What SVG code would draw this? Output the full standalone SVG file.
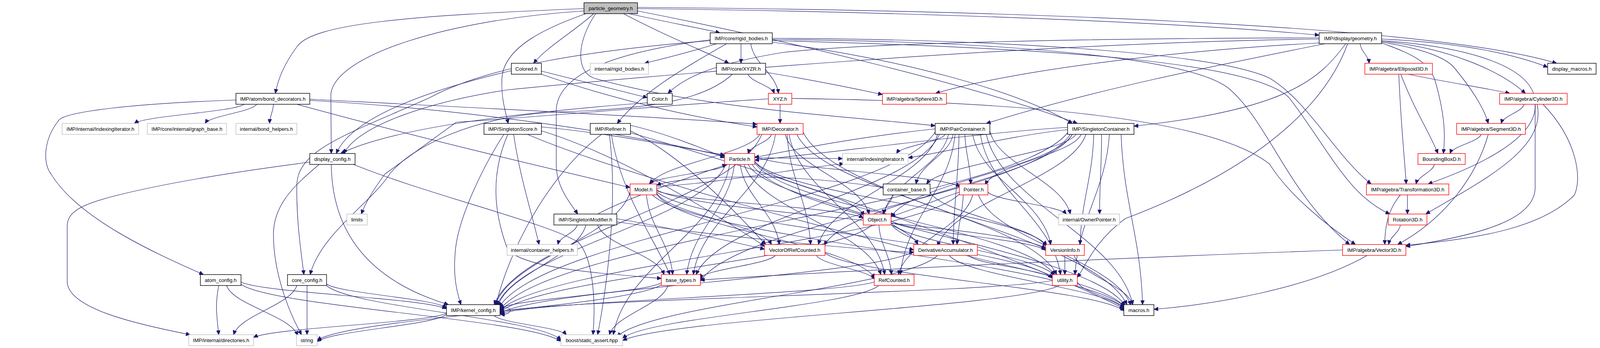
<svg xmlns="http://www.w3.org/2000/svg" width="4260" height="891" viewBox="0 0 4260 891">
<defs>
<marker id="ah" markerWidth="12" markerHeight="10" refX="11" refY="5" orient="auto" markerUnits="userSpaceOnUse"><path d="M0,0 L11,5 L0,10 z" fill="#191970" stroke="#191970" stroke-width="1"/></marker>
</defs>
<style>
.e path{fill:none;stroke:#191970;stroke-width:1.2;marker-end:url(#ah)}
.n rect{fill:#ffffff;stroke-width:1.4}
.k rect{stroke:#000000}
.r rect{stroke:#ff0000}
.g rect{stroke:#bfbfbf}
.n text{font-family:"Liberation Sans",Arial,Helvetica,sans-serif;font-size:13px;text-anchor:middle;fill:#000000}
</style>
<rect x="0" y="0" width="4260" height="891" fill="#ffffff"/>
<g id="edges" class="e">
<path d="M1495,22 C1050,40 800,60 760,120 C730,160 712,200 705,239"/>
<path d="M1495,28 C1150,50 860,140 847,240 L848,393"/>
<path d="M1500,35 C1400,70 1290,120 1285,200 C1282,250 1295,290 1301,316"/>
<path d="M1520,35 C1470,80 1400,120 1366,162"/>
<path d="M1610,35 C1700,55 1780,70 1843,84"/>
<path d="M1596,35 C1700,90 1800,130 1866,162"/>
<path d="M1632,22 C2300,30 3000,55 3377,90"/>
<path d="M1632,19 C2500,25 3650,60 3985,162"/>
<path d="M1632,28 C2000,100 2500,220 2758,316"/>
<path d="M1525,35 C1480,100 1470,180 1520,200 C1800,280 2200,300 2394,322"/>
<path d="M1835,112 C1760,135 1700,150 1650,162"/>
<path d="M1897,112 L1897,162"/>
<path d="M1922,112 C1929,163 1986,188 1993,239"/>
<path d="M1860,112 C1740,180 1640,240 1580,316"/>
<path d="M1818,102 C1600,130 1430,180 1424,280 L1424,420 C1424,480 1460,520 1479,548"/>
<path d="M1818,104 C1500,130 1250,170 1100,250 C900,340 765,380 760,470 C758,560 770,640 778,703"/>
<path d="M1977,98 C2500,100 3100,130 3250,200 C3350,260 3420,400 3510,471"/>
<path d="M1977,101 C2500,105 3050,140 3150,230 C3250,320 3300,500 3455,626"/>
<path d="M1977,104 C2600,120 3200,150 3300,250 C3400,380 3450,500 3558,548"/>
<path d="M1977,108 C2300,150 2600,230 2745,316"/>
<path d="M1915,190 C1922,210 1975,219 1982,239"/>
<path d="M1960,185 C2080,205 2180,225 2259,242"/>
<path d="M1875,190 C1800,260 1650,280 1420,287 C1200,300 1050,380 998,445 C950,520 820,600 794,703"/>
<path d="M1997,267 L1997,316"/>
<path d="M1967,253 C1700,270 1500,290 1168,313 L985,446 C960,480 935,520 925,548"/>
<path d="M2027,252 C2600,260 3100,300 3250,420 C3300,500 3400,580 3470,626"/>
<path d="M1309,181 C1100,230 900,300 861,393"/>
<path d="M1386,182 C1500,210 1600,235 1657,250"/>
<path d="M1386,190 C1500,230 1700,290 1938,325"/>
<path d="M1657,263 C1300,290 1000,330 872,393"/>
<path d="M3377,100 C2600,110 1600,200 1300,230 C1100,260 920,320 880,393"/>
<path d="M3377,97 C2800,98 2200,110 2000,135 C1850,160 1760,190 1710,239"/>
<path d="M3482,112 C3484,132 3503,142 3505,162"/>
<path d="M3537,100 C3750,110 3880,140 3962,172"/>
<path d="M3537,106 C3700,120 3840,180 3905,239"/>
<path d="M3537,108 C3650,125 3700,150 3720,170 C3770,230 3800,280 3810,316"/>
<path d="M3537,110 C3620,140 3660,160 3675,210 C3700,300 3700,350 3695,393"/>
<path d="M3537,104 C3760,120 3925,170 3930,260 L3930,480 C3930,560 3800,600 3599,631"/>
<path d="M3377,110 C3000,130 2600,180 2395,239"/>
<path d="M3392,112 C3100,170 2800,230 2525,316"/>
<path d="M3445,112 C3380,200 3300,280 2903,323"/>
<path d="M3450,112 C3400,250 3250,420 2880,560 C2800,620 2780,680 2758,710"/>
<path d="M3605,190 C3700,210 3800,225 3865,239"/>
<path d="M3586,190 C3620,280 3660,340 3681,393"/>
<path d="M3581,190 C3585,300 3595,400 3600,471"/>
<path d="M3902,267 C3896,287 3849,296 3843,316"/>
<path d="M3930,267 C3935,350 3800,420 3656,471"/>
<path d="M3935,267 C3960,380 3800,460 3650,548"/>
<path d="M3950,267 C4040,360 4050,460 4030,500 C3950,580 3800,610 3599,628"/>
<path d="M3792,344 C3784,364 3720,373 3712,393"/>
<path d="M3810,344 C3780,450 3700,560 3578,626"/>
<path d="M3672,421 C3667,441 3630,451 3625,471"/>
<path d="M3603,499 L3603,548"/>
<path d="M3585,499 C3550,540 3545,590 3545,626"/>
<path d="M3585,576 C3582,596 3558,606 3555,626"/>
<path d="M3500,654 C3350,740 3100,780 2954,792"/>
<path d="M3437,640 C3000,655 2200,690 1793,717"/>
<path d="M625,267 C597,287 372,296 344,316"/>
<path d="M657,267 C644,287 538,296 525,316"/>
<path d="M700,267 C699,287 691,296 690,316"/>
<path d="M604,256 C350,265 160,285 149,310 C110,360 110,420 131,446 C200,560 400,650 521,703"/>
<path d="M793,254 C1200,275 1700,300 1938,318"/>
<path d="M793,257 C1200,280 1600,340 1855,400"/>
<path d="M760,267 C1100,360 1400,430 1613,480"/>
<path d="M1290,344 C1240,420 1170,560 1165,650 C1160,710 1170,750 1180,780"/>
<path d="M1300,344 C1250,460 1270,560 1300,640 C1350,690 1550,700 1693,713"/>
<path d="M1315,344 C1330,450 1360,540 1380,626"/>
<path d="M1386,325 C1550,340 1700,370 1855,397"/>
<path d="M1350,344 C1600,450 2100,580 2339,640"/>
<path d="M1386,335 C1600,400 1850,560 1957,630"/>
<path d="M1614,321 C1700,340 1800,380 1855,404"/>
<path d="M1614,335 C1750,400 1900,560 1960,626"/>
<path d="M1540,344 C1400,450 1300,650 1270,780"/>
<path d="M1565,344 C1590,500 1680,620 1715,703"/>
<path d="M1560,344 C1580,500 1560,700 1530,857"/>
<path d="M1614,340 C2000,450 2600,650 2877,790"/>
<path d="M1975,344 C1969,364 1921,373 1915,393"/>
<path d="M1945,344 C1917,395 1693,420 1665,471"/>
<path d="M2010,344 C2031,426 2204,466 2225,548"/>
<path d="M2020,344 C2044,488 2240,559 2265,703"/>
<path d="M2015,344 C2021,457 2069,513 2075,626"/>
<path d="M2040,344 C2106,488 2638,559 2705,703"/>
<path d="M2056,338 C2139,515 2802,603 2885,780"/>
<path d="M1950,344 C1881,518 1333,606 1265,780"/>
<path d="M1985,344 C1964,488 1796,559 1775,703"/>
<path d="M1862,421 C1842,441 1682,451 1662,471"/>
<path d="M1880,421 C1868,534 1770,590 1758,703"/>
<path d="M1858,421 C1799,565 1331,638 1272,782"/>
<path d="M1915,421 C1959,503 2307,544 2350,626"/>
<path d="M1905,421 C1940,534 2220,590 2255,703"/>
<path d="M1932,412 C1960,468 2184,496 2212,552"/>
<path d="M1895,421 C1905,503 1985,544 1995,626"/>
<path d="M1932,400 C1985,431 2405,447 2458,478"/>
<path d="M1932,417 C2009,532 2623,589 2700,704"/>
<path d="M1932,414 C2007,500 2605,542 2680,628"/>
<path d="M1925,421 C2021,565 2785,638 2880,782"/>
<path d="M1932,404 C2000,404 2090,406 2157,406"/>
<path d="M1868,421 C1838,595 1600,683 1570,857"/>
<path d="M1655,499 C1662,581 1715,621 1722,703"/>
<path d="M1613,492 C1579,608 1303,666 1268,782"/>
<path d="M1681,488 C1734,516 2157,530 2210,558"/>
<path d="M1681,494 C1710,547 1946,573 1975,626"/>
<path d="M1681,497 C1737,583 2184,626 2240,712"/>
<path d="M1681,486 C1781,546 2577,576 2677,636"/>
<path d="M1681,491 C1782,579 2593,624 2694,712"/>
<path d="M1670,499 C1791,614 2759,671 2880,786"/>
<path d="M1681,478 C1829,470 2050,430 2160,419"/>
<path d="M1530,548 C1620,500 1780,450 1860,421"/>
<path d="M1478,576 C1473,596 1433,606 1428,626"/>
<path d="M1530,576 C1547,627 1683,652 1700,703"/>
<path d="M1500,576 C1478,659 1298,701 1275,784"/>
<path d="M905,421 C1100,500 1400,570 1480,620 C1520,660 1525,780 1518,857"/>
<path d="M1579,560 C1700,580 1880,620 1957,638"/>
<path d="M1579,568 C1800,600 2200,640 2339,646"/>
<path d="M2394,330 C2200,350 2050,380 1932,403"/>
<path d="M2420,344 C2408,364 2308,373 2295,393"/>
<path d="M2440,344 C2431,395 2355,420 2345,471"/>
<path d="M2470,344 C2472,395 2484,420 2485,471"/>
<path d="M2428,344 C2411,426 2279,466 2262,548"/>
<path d="M2455,344 C2454,457 2442,513 2440,626"/>
<path d="M2490,344 C2510,457 2670,513 2690,626"/>
<path d="M2510,344 C2531,488 2695,559 2715,703"/>
<path d="M2525,344 C2563,518 2863,606 2900,780"/>
<path d="M2394,338 C2282,517 1390,607 1278,786"/>
<path d="M2405,344 C2343,488 1844,559 1782,703"/>
<path d="M2400,344 C2370,457 2126,513 2095,626"/>
<path d="M2534,336 C2555,421 2720,463 2740,548"/>
<path d="M2445,344 C2431,488 2319,559 2305,703"/>
<path d="M2733,326 C2500,340 2100,395 1932,410"/>
<path d="M2733,332 C2600,345 2420,390 2325,404"/>
<path d="M2755,344 C2717,395 2410,420 2372,471"/>
<path d="M2768,344 C2743,396 2547,421 2522,473"/>
<path d="M2745,344 C2699,429 2327,471 2281,556"/>
<path d="M2780,344 C2742,458 2438,516 2400,630"/>
<path d="M2800,344 C2797,457 2768,513 2765,626"/>
<path d="M2840,344 C2831,488 2761,559 2752,703"/>
<path d="M2870,344 C2876,518 2920,606 2925,780"/>
<path d="M2733,340 C2588,521 1425,611 1280,792"/>
<path d="M2740,344 C2645,494 1888,570 1793,720"/>
<path d="M2745,344 C2682,458 2174,514 2110,628"/>
<path d="M2820,344 C2820,426 2815,466 2815,548"/>
<path d="M2285,499 C2283,519 2264,528 2262,548"/>
<path d="M2261,480 C2000,440 1750,450 1681,474"/>
<path d="M2381,492 C2411,548 2649,576 2679,632"/>
<path d="M2456,492 C2400,510 2330,540 2281,554"/>
<path d="M2490,499 C2471,581 2319,621 2300,703"/>
<path d="M2466,499 C2464,550 2452,575 2450,626"/>
<path d="M2529,492 C2549,514 2710,526 2730,548"/>
<path d="M2505,499 C2544,612 2856,668 2895,781"/>
<path d="M2456,497 C2338,616 1398,676 1280,795"/>
<path d="M2250,576 C2253,627 2279,652 2282,703"/>
<path d="M2281,565 C2321,595 2637,611 2677,641"/>
<path d="M2281,570 C2323,624 2658,652 2700,706"/>
<path d="M2281,574 C2341,659 2818,701 2878,786"/>
<path d="M2232,576 C2137,666 1375,710 1280,800"/>
<path d="M2480,654 C2502,678 2675,690 2697,714"/>
<path d="M2430,654 C2475,709 2835,737 2880,792"/>
<path d="M2339,644 C2233,707 1386,739 1280,802"/>
<path d="M2400,654 C2318,737 1662,779 1580,862"/>
<path d="M2726,654 L2726,703"/>
<path d="M2750,654 C2765,704 2885,730 2900,780"/>
<path d="M2238,722 C2142,754 1376,771 1280,803"/>
<path d="M2250,731 C2184,785 1660,812 1594,866"/>
<path d="M2694,718 C2553,750 1421,766 1280,798"/>
<path d="M2758,722 C2770,750 2865,764 2877,792"/>
<path d="M2712,731 C2600,787 1706,816 1594,872"/>
<path d="M1985,654 C1966,677 1810,689 1790,712"/>
<path d="M2090,654 C2105,679 2225,691 2240,716"/>
<path d="M2112,648 C2189,707 2801,737 2878,796"/>
<path d="M1693,724 C1652,750 1321,764 1280,790"/>
<path d="M1710,731 C1695,781 1575,807 1560,857"/>
<path d="M1693,729 C1605,786 900,814 812,871"/>
<path d="M836,727 C867,751 1112,764 1143,788"/>
<path d="M760,731 C744,781 614,807 598,857"/>
<path d="M786,731 L786,857"/>
<path d="M836,731 C896,787 1376,814 1436,870"/>
<path d="M560,731 C550,780 555,810 560,857"/>
<path d="M580,731 C598,782 744,808 762,859"/>
<path d="M617,722 C670,750 1090,763 1143,791"/>
<path d="M617,728 C699,786 1354,816 1436,874"/>
<path d="M793,415 C600,440 420,470 300,500 C200,525 172,545 172,580 L172,720 C172,790 350,830 487,857"/>
<path d="M817,421 C760,470 700,520 700,600 C700,700 740,800 772,857"/>
<path d="M848,421 C850,600 950,720 1148,780"/>
<path d="M1143,802 C1094,827 698,839 649,864"/>
<path d="M1143,805 C1110,833 845,847 812,875"/>
<path d="M1265,808 C1283,828 1432,837 1450,857"/>
<path d="M1280,786 C1315,784 1315,806 1281,805"/>
</g>
<g id="n_pg" class="n k"><rect x="1495" y="7" width="137" height="28" style="fill:#bfbfbf"/><text x="1563.5" y="26">particle_geometry.h</text></g>
<g id="n_rigid" class="n k"><rect x="1818" y="84" width="159" height="28"/><text x="1897.5" y="103">IMP/core/rigid_bodies.h</text></g>
<g id="n_dgeom" class="n k"><rect x="3377" y="84" width="160" height="28"/><text x="3457" y="103">IMP/display/geometry.h</text></g>
<g id="n_colored" class="n k"><rect x="1309" y="162" width="77" height="28"/><text x="1347.5" y="181">Colored.h</text></g>
<g id="n_irigid" class="n g"><rect x="1511" y="162" width="149" height="28"/><text x="1585.5" y="181">internal/rigid_bodies.h</text></g>
<g id="n_xyzr" class="n k"><rect x="1834" y="162" width="126" height="28"/><text x="1897" y="181">IMP/core/XYZR.h</text></g>
<g id="n_ellip" class="n r"><rect x="3494" y="162" width="173" height="28"/><text x="3580.5" y="181">IMP/algebra/Ellipsoid3D.h</text></g>
<g id="n_dmacros" class="n k"><rect x="3962" y="162" width="124" height="28"/><text x="4024" y="181">display_macros.h</text></g>
<g id="n_bond" class="n k"><rect x="604" y="239" width="189" height="28"/><text x="698.5" y="258">IMP/atom/bond_decorators.h</text></g>
<g id="n_color" class="n k"><rect x="1657" y="239" width="64" height="28"/><text x="1689" y="258">Color.h</text></g>
<g id="n_xyz" class="n r"><rect x="1967" y="239" width="60" height="28"/><text x="1997" y="258">XYZ.h</text></g>
<g id="n_sphere" class="n r"><rect x="2259" y="239" width="164" height="28"/><text x="2341" y="258">IMP/algebra/Sphere3D.h</text></g>
<g id="n_cyl" class="n r"><rect x="3839" y="239" width="173" height="28"/><text x="3925.5" y="258">IMP/algebra/Cylinder3D.h</text></g>
<g id="n_iidx" class="n g"><rect x="159" y="316" width="196" height="28"/><text x="257" y="335">IMP/internal/IndexingIterator.h</text></g>
<g id="n_gbase" class="n g"><rect x="377" y="316" width="203" height="28"/><text x="478.5" y="335">IMP/core/internal/graph_base.h</text></g>
<g id="n_bhelp" class="n g"><rect x="604" y="316" width="156" height="28"/><text x="682" y="335">internal/bond_helpers.h</text></g>
<g id="n_sscore" class="n k"><rect x="1239" y="316" width="147" height="28"/><text x="1312.5" y="335">IMP/SingletonScore.h</text></g>
<g id="n_refiner" class="n k"><rect x="1511" y="316" width="103" height="28"/><text x="1562.5" y="335">IMP/Refiner.h</text></g>
<g id="n_decor" class="n r"><rect x="1938" y="316" width="118" height="28"/><text x="1997" y="335">IMP/Decorator.h</text></g>
<g id="n_pairc" class="n k"><rect x="2394" y="316" width="140" height="28"/><text x="2464" y="335">IMP/PairContainer.h</text></g>
<g id="n_singc" class="n k"><rect x="2733" y="316" width="170" height="28"/><text x="2818" y="335">IMP/SingletonContainer.h</text></g>
<g id="n_seg" class="n r"><rect x="3729" y="316" width="176" height="28"/><text x="3817" y="335">IMP/algebra/Segment3D.h</text></g>
<g id="n_dconfig" class="n k"><rect x="793" y="393" width="116" height="28"/><text x="851" y="412">display_config.h</text></g>
<g id="n_particle" class="n r"><rect x="1855" y="393" width="77" height="28"/><text x="1893.5" y="412">Particle.h</text></g>
<g id="n_iidx2" class="n g"><rect x="2157" y="393" width="168" height="28"/><text x="2241" y="412">internal/IndexingIterator.h</text></g>
<g id="n_bbox" class="n r"><rect x="3630" y="393" width="121" height="28"/><text x="3690.5" y="412">BoundingBoxD.h</text></g>
<g id="n_model" class="n r"><rect x="1613" y="471" width="68" height="28"/><text x="1647" y="490">Model.h</text></g>
<g id="n_cbase" class="n k"><rect x="2261" y="471" width="120" height="28"/><text x="2321" y="490">container_base.h</text></g>
<g id="n_pointer" class="n r"><rect x="2456" y="471" width="73" height="28"/><text x="2492.5" y="490">Pointer.h</text></g>
<g id="n_trans" class="n r"><rect x="3498" y="471" width="211" height="28"/><text x="3603.5" y="490">IMP/algebra/Transformation3D.h</text></g>
<g id="n_limits" class="n g"><rect x="888" y="548" width="52" height="28"/><text x="914" y="567">limits</text></g>
<g id="n_smod" class="n k"><rect x="1418" y="548" width="161" height="28"/><text x="1498.5" y="567">IMP/SingletonModifier.h</text></g>
<g id="n_object" class="n r"><rect x="2210" y="548" width="71" height="28"/><text x="2245.5" y="567">Object.h</text></g>
<g id="n_owner" class="n g"><rect x="2710" y="548" width="156" height="28"/><text x="2788" y="567">internal/OwnerPointer.h</text></g>
<g id="n_rot" class="n r"><rect x="3554" y="548" width="99" height="28"/><text x="3603.5" y="567">Rotation3D.h</text></g>
<g id="n_chelp" class="n g"><rect x="1298" y="626" width="180" height="28"/><text x="1388" y="645">internal/container_helpers.h</text></g>
<g id="n_vorc" class="n r"><rect x="1957" y="626" width="155" height="28"/><text x="2034.5" y="645">VectorOfRefCounted.h</text></g>
<g id="n_deriv" class="n r"><rect x="2339" y="626" width="163" height="28"/><text x="2420.5" y="645">DerivativeAccumulator.h</text></g>
<g id="n_vinfo" class="n r"><rect x="2677" y="626" width="99" height="28"/><text x="2726.5" y="645">VersionInfo.h</text></g>
<g id="n_vec3" class="n r"><rect x="3437" y="626" width="162" height="28"/><text x="3518" y="645">IMP/algebra/Vector3D.h</text></g>
<g id="n_atomcfg" class="n k"><rect x="513" y="703" width="104" height="28"/><text x="565" y="722">atom_config.h</text></g>
<g id="n_corecfg" class="n k"><rect x="736" y="703" width="100" height="28"/><text x="786" y="722">core_config.h</text></g>
<g id="n_btypes" class="n r"><rect x="1693" y="703" width="100" height="28"/><text x="1743" y="722">base_types.h</text></g>
<g id="n_refc" class="n r"><rect x="2238" y="703" width="102" height="28"/><text x="2289" y="722">RefCounted.h</text></g>
<g id="n_util" class="n r"><rect x="2694" y="703" width="64" height="28"/><text x="2726" y="722">utility.h</text></g>
<g id="n_kcfg" class="n k"><rect x="1143" y="780" width="137" height="28"/><text x="1211.5" y="799">IMP/kernel_config.h</text></g>
<g id="n_macros" class="n k"><rect x="2877" y="780" width="77" height="28"/><text x="2915.5" y="799">macros.h</text></g>
<g id="n_dirs" class="n g"><rect x="483" y="857" width="166" height="28"/><text x="566" y="876">IMP/internal/directories.h</text></g>
<g id="n_string" class="n g"><rect x="759" y="857" width="53" height="28"/><text x="785.5" y="876">string</text></g>
<g id="n_sassert" class="n g"><rect x="1436" y="857" width="158" height="28"/><text x="1515" y="876">boost/static_assert.hpp</text></g>
</svg>
